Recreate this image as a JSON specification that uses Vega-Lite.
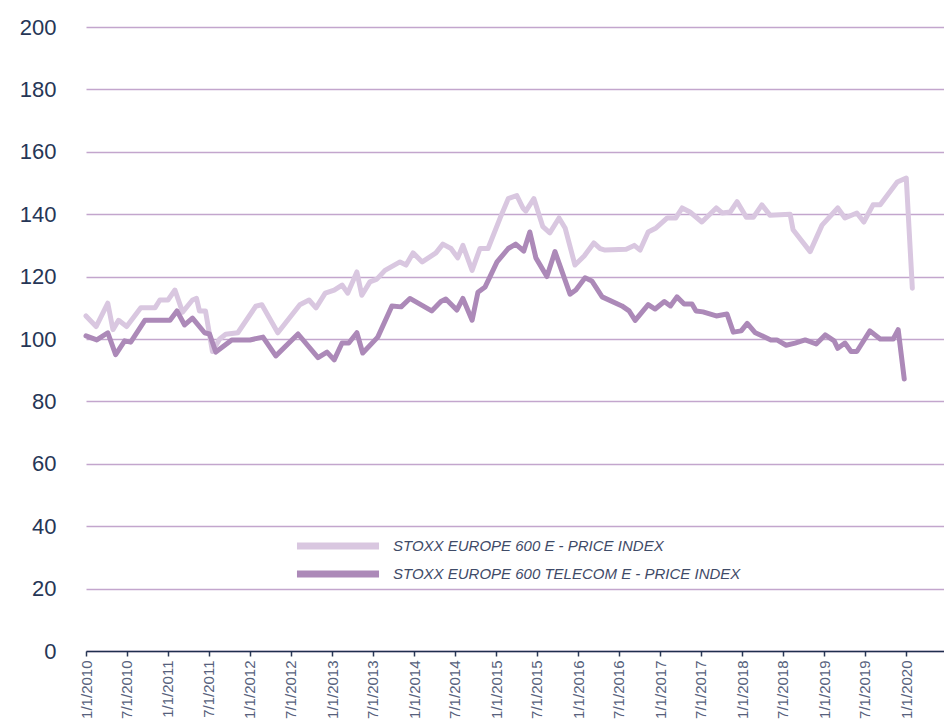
{
  "$schema": "https://vega.github.io/schema/vega-lite/v6.json",
  "width": 858,
  "height": 624,
  "autosize": {"type": "none"},
  "padding": {"left": 86, "top": 27, "right": 0, "bottom": 71},
  "background": "white",
  "config": {
    "view": {"stroke": null},
    "font": "Liberation Sans"
  },
  "datasets": {
    "light": [
      {"date": "2010-01-01", "value": 107.4},
      {"date": "2010-02-15", "value": 104},
      {"date": "2010-04-08", "value": 111.5},
      {"date": "2010-05-01", "value": 103},
      {"date": "2010-05-26", "value": 106},
      {"date": "2010-07-01", "value": 104},
      {"date": "2010-09-02", "value": 110},
      {"date": "2010-11-04", "value": 110},
      {"date": "2010-11-26", "value": 112.5},
      {"date": "2011-01-01", "value": 112.5},
      {"date": "2011-02-01", "value": 115.7},
      {"date": "2011-03-07", "value": 108.6},
      {"date": "2011-04-20", "value": 112.5},
      {"date": "2011-05-08", "value": 113},
      {"date": "2011-05-21", "value": 109},
      {"date": "2011-06-17", "value": 109},
      {"date": "2011-07-18", "value": 96},
      {"date": "2011-08-19", "value": 100},
      {"date": "2011-09-15", "value": 101.5},
      {"date": "2011-11-08", "value": 102},
      {"date": "2012-01-27", "value": 110.5},
      {"date": "2012-02-23", "value": 111},
      {"date": "2012-05-04", "value": 102},
      {"date": "2012-08-10", "value": 111},
      {"date": "2012-09-20", "value": 112.5},
      {"date": "2012-10-21", "value": 110},
      {"date": "2012-12-01", "value": 114.7},
      {"date": "2013-01-10", "value": 115.7},
      {"date": "2013-02-14", "value": 117.3},
      {"date": "2013-03-11", "value": 114.7},
      {"date": "2013-04-21", "value": 121.5},
      {"date": "2013-05-13", "value": 114},
      {"date": "2013-06-18", "value": 118.3},
      {"date": "2013-07-19", "value": 119.2},
      {"date": "2013-08-24", "value": 122},
      {"date": "2013-10-30", "value": 124.7},
      {"date": "2013-11-26", "value": 123.7},
      {"date": "2013-12-27", "value": 127.6},
      {"date": "2014-02-06", "value": 124.7},
      {"date": "2014-04-08", "value": 127.6},
      {"date": "2014-05-09", "value": 130.4},
      {"date": "2014-06-14", "value": 129},
      {"date": "2014-07-14", "value": 126},
      {"date": "2014-08-06", "value": 130},
      {"date": "2014-09-16", "value": 122},
      {"date": "2014-10-21", "value": 129},
      {"date": "2014-11-26", "value": 129},
      {"date": "2015-01-19", "value": 138.8},
      {"date": "2015-02-24", "value": 145},
      {"date": "2015-04-03", "value": 146},
      {"date": "2015-04-30", "value": 142},
      {"date": "2015-05-13", "value": 141},
      {"date": "2015-06-18", "value": 145},
      {"date": "2015-07-28", "value": 136},
      {"date": "2015-08-28", "value": 134},
      {"date": "2015-10-08", "value": 138.8},
      {"date": "2015-11-04", "value": 135.6},
      {"date": "2015-12-18", "value": 123.7},
      {"date": "2016-01-28", "value": 126.6},
      {"date": "2016-03-11", "value": 130.8},
      {"date": "2016-04-08", "value": 129},
      {"date": "2016-04-30", "value": 128.5},
      {"date": "2016-08-02", "value": 128.8},
      {"date": "2016-09-07", "value": 130},
      {"date": "2016-10-03", "value": 128.5},
      {"date": "2016-11-08", "value": 134.3},
      {"date": "2016-12-13", "value": 135.6},
      {"date": "2017-02-01", "value": 138.8},
      {"date": "2017-03-11", "value": 138.8},
      {"date": "2017-04-08", "value": 142},
      {"date": "2017-05-13", "value": 140.7},
      {"date": "2017-07-05", "value": 137.5},
      {"date": "2017-09-07", "value": 142},
      {"date": "2017-10-03", "value": 140.4},
      {"date": "2017-11-08", "value": 140.7},
      {"date": "2017-12-09", "value": 144},
      {"date": "2018-01-19", "value": 139},
      {"date": "2018-02-19", "value": 139},
      {"date": "2018-03-29", "value": 143},
      {"date": "2018-05-04", "value": 139.7},
      {"date": "2018-08-02", "value": 140},
      {"date": "2018-08-15", "value": 135},
      {"date": "2018-10-30", "value": 128},
      {"date": "2018-12-22", "value": 136.5},
      {"date": "2019-03-02", "value": 142},
      {"date": "2019-04-03", "value": 138.8},
      {"date": "2019-05-26", "value": 140.4},
      {"date": "2019-06-26", "value": 137.5},
      {"date": "2019-08-06", "value": 143},
      {"date": "2019-09-07", "value": 143},
      {"date": "2019-11-22", "value": 150.3},
      {"date": "2020-01-01", "value": 151.6},
      {"date": "2020-01-28", "value": 116.3}
    ],
    "dark": [
      {"date": "2010-01-01", "value": 101},
      {"date": "2010-02-18", "value": 99.7},
      {"date": "2010-04-08", "value": 102},
      {"date": "2010-05-13", "value": 95},
      {"date": "2010-06-22", "value": 99.4},
      {"date": "2010-07-19", "value": 99},
      {"date": "2010-09-20", "value": 106},
      {"date": "2011-01-10", "value": 106},
      {"date": "2011-02-10", "value": 109},
      {"date": "2011-03-16", "value": 104.5},
      {"date": "2011-04-20", "value": 106.7},
      {"date": "2011-06-13", "value": 102},
      {"date": "2011-07-05", "value": 101.6},
      {"date": "2011-08-02", "value": 95.8},
      {"date": "2011-10-12", "value": 99.7},
      {"date": "2012-01-01", "value": 99.7},
      {"date": "2012-02-28", "value": 100.6},
      {"date": "2012-04-25", "value": 94.6},
      {"date": "2012-08-02", "value": 101.6},
      {"date": "2012-10-30", "value": 94},
      {"date": "2012-12-09", "value": 95.8},
      {"date": "2013-01-10", "value": 93.3},
      {"date": "2013-02-14", "value": 98.7},
      {"date": "2013-03-16", "value": 98.7},
      {"date": "2013-04-21", "value": 102},
      {"date": "2013-05-17", "value": 95.5},
      {"date": "2013-07-23", "value": 100.6},
      {"date": "2013-09-24", "value": 110.6},
      {"date": "2013-11-04", "value": 110.3},
      {"date": "2013-12-13", "value": 113},
      {"date": "2014-03-20", "value": 109},
      {"date": "2014-04-30", "value": 112},
      {"date": "2014-05-22", "value": 112.8},
      {"date": "2014-07-10", "value": 109.3},
      {"date": "2014-08-06", "value": 113},
      {"date": "2014-09-16", "value": 106},
      {"date": "2014-10-12", "value": 115},
      {"date": "2014-11-13", "value": 116.7},
      {"date": "2015-01-05", "value": 124.7},
      {"date": "2015-02-24", "value": 129},
      {"date": "2015-03-29", "value": 130.4},
      {"date": "2015-05-04", "value": 128.2},
      {"date": "2015-05-31", "value": 134.3},
      {"date": "2015-06-27", "value": 126},
      {"date": "2015-08-15", "value": 120},
      {"date": "2015-09-20", "value": 128},
      {"date": "2015-11-26", "value": 114.4},
      {"date": "2015-12-22", "value": 115.7},
      {"date": "2016-02-01", "value": 119.6},
      {"date": "2016-03-02", "value": 118.6},
      {"date": "2016-04-17", "value": 113.5},
      {"date": "2016-07-14", "value": 110.6},
      {"date": "2016-08-15", "value": 109},
      {"date": "2016-09-11", "value": 106},
      {"date": "2016-11-08", "value": 111},
      {"date": "2016-12-09", "value": 109.6},
      {"date": "2017-01-19", "value": 112},
      {"date": "2017-02-15", "value": 110.6},
      {"date": "2017-03-16", "value": 113.5},
      {"date": "2017-04-17", "value": 111.2},
      {"date": "2017-05-22", "value": 111.2},
      {"date": "2017-06-09", "value": 109},
      {"date": "2017-07-10", "value": 108.7},
      {"date": "2017-09-07", "value": 107.4},
      {"date": "2017-10-25", "value": 108},
      {"date": "2017-11-22", "value": 102.2},
      {"date": "2017-12-27", "value": 102.6},
      {"date": "2018-01-23", "value": 105},
      {"date": "2018-02-28", "value": 102},
      {"date": "2018-05-08", "value": 99.7},
      {"date": "2018-06-04", "value": 99.7},
      {"date": "2018-07-15", "value": 98},
      {"date": "2018-08-24", "value": 98.7},
      {"date": "2018-10-08", "value": 99.7},
      {"date": "2018-11-26", "value": 98.4},
      {"date": "2019-01-05", "value": 101.3},
      {"date": "2019-02-14", "value": 99.4},
      {"date": "2019-03-02", "value": 97},
      {"date": "2019-04-03", "value": 98.7},
      {"date": "2019-04-30", "value": 96},
      {"date": "2019-05-26", "value": 96},
      {"date": "2019-07-23", "value": 102.6},
      {"date": "2019-09-07", "value": 100},
      {"date": "2019-11-04", "value": 100},
      {"date": "2019-11-26", "value": 103},
      {"date": "2019-12-23", "value": 87.2}
    ]
  },
  "layer": [
    {
      "data": {"name": "light"},
      "transform": [{"calculate": "'STOXX EUROPE 600 E - PRICE INDEX'", "as": "series"}],
      "mark": {"type": "line", "strokeWidth": 5, "strokeJoin": "round", "strokeCap": "round"},
      "encoding": {
        "x": {
          "field": "date", "type": "temporal", "title": null,
          "scale": {"type": "utc", "domain": [{"year": 2010, "month": 1, "date": 1, "utc": true}, {"year": 2020, "month": 6, "date": 17, "utc": true}]},
          "axis": {
            "values": [
              {"year": 2010, "month": 1, "date": 1, "utc": true},
              {"year": 2010, "month": 7, "date": 1, "utc": true},
              {"year": 2011, "month": 1, "date": 1, "utc": true},
              {"year": 2011, "month": 7, "date": 1, "utc": true},
              {"year": 2012, "month": 1, "date": 1, "utc": true},
              {"year": 2012, "month": 7, "date": 1, "utc": true},
              {"year": 2013, "month": 1, "date": 1, "utc": true},
              {"year": 2013, "month": 7, "date": 1, "utc": true},
              {"year": 2014, "month": 1, "date": 1, "utc": true},
              {"year": 2014, "month": 7, "date": 1, "utc": true},
              {"year": 2015, "month": 1, "date": 1, "utc": true},
              {"year": 2015, "month": 7, "date": 1, "utc": true},
              {"year": 2016, "month": 1, "date": 1, "utc": true},
              {"year": 2016, "month": 7, "date": 1, "utc": true},
              {"year": 2017, "month": 1, "date": 1, "utc": true},
              {"year": 2017, "month": 7, "date": 1, "utc": true},
              {"year": 2018, "month": 1, "date": 1, "utc": true},
              {"year": 2018, "month": 7, "date": 1, "utc": true},
              {"year": 2019, "month": 1, "date": 1, "utc": true},
              {"year": 2019, "month": 7, "date": 1, "utc": true},
              {"year": 2020, "month": 1, "date": 1, "utc": true}
            ],
            "labelExpr": "utcFormat(datum.value, '%-m/%-d/%Y')",
            "labelAngle": -90,
            "labelAlign": "right",
            "labelBaseline": "middle",
            "labelFontSize": 15,
            "labelColor": "#56617c",
            "labelPadding": 4,
            "labelOverlap": false,
            "labelFlush": false,
            "tickSize": 5,
            "tickColor": "#2a3856",
            "tickWidth": 1.5,
            "domainColor": "#1f2e4e",
            "domainWidth": 1.5,
            "grid": false
          }
        },
        "y": {
          "field": "value", "type": "quantitative", "title": null,
          "scale": {"domain": [0, 200], "nice": false, "zero": true},
          "axis": {
            "values": [0, 20, 40, 60, 80, 100, 120, 140, 160, 180, 200],
            "domain": false,
            "ticks": false,
            "labelFontSize": 22,
            "labelColor": "#263656",
            "labelPadding": 30,
            "grid": true,
            "gridColor": "#c3a6cd",
            "gridWidth": 1.3
          }
        },
        "color": {
          "field": "series", "type": "nominal",
          "scale": {
            "domain": ["STOXX EUROPE 600 E - PRICE INDEX", "STOXX EUROPE 600 TELECOM E - PRICE INDEX"],
            "range": ["#d9c7e0", "#ac89b8"]
          },
          "legend": {
            "title": null,
            "orient": "none",
            "legendX": 241,
            "legendY": 508,
            "padding": 0,
            "symbolType": "M-5.47,0H5.47",
            "symbolSize": 225,
            "symbolStrokeWidth": 7,
            "rowPadding": 0,
            "labelOffset": 44,
            "labelFontSize": 15,
            "labelFontStyle": "italic",
            "labelColor": "#3f4b68",
            "labelLimit": 500
          }
        }
      }
    },
    {
      "data": {"name": "dark"},
      "transform": [{"calculate": "'STOXX EUROPE 600 TELECOM E - PRICE INDEX'", "as": "series"}],
      "mark": {"type": "line", "strokeWidth": 5, "strokeJoin": "round", "strokeCap": "round"},
      "encoding": {
        "x": {"field": "date", "type": "temporal"},
        "y": {"field": "value", "type": "quantitative"},
        "color": {"field": "series", "type": "nominal"}
      }
    }
  ]
}
